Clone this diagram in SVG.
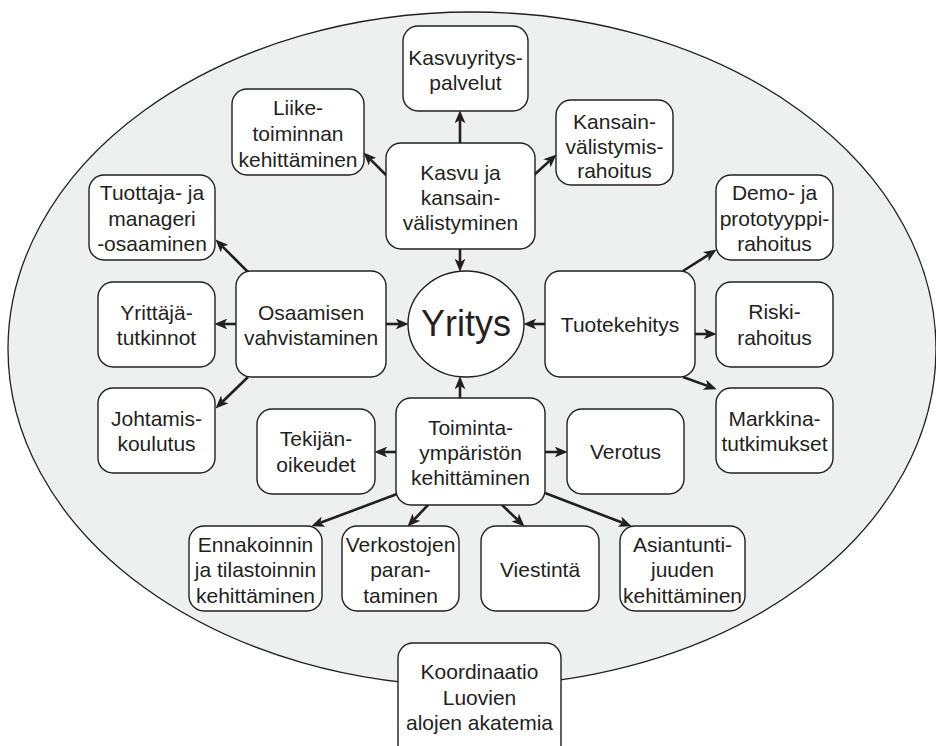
<svg xmlns="http://www.w3.org/2000/svg" width="936" height="746" viewBox="0 0 936 746">
<defs>
<style>
.bg{fill:#eef0ef;stroke:#231f20;stroke-width:1.3}
.box{fill:#ffffff;stroke:#231f20;stroke-width:1.4}
.t{font-family:"Liberation Sans",Arial,sans-serif;font-size:21px;fill:#231f20;text-anchor:middle}
.big{font-size:36px}
.c{fill:none;stroke:#231f20;stroke-width:2.6;marker-end:url(#ah)}
</style>
<marker id="ah" markerUnits="userSpaceOnUse" markerWidth="13" markerHeight="11" refX="3" refY="5" orient="auto" viewBox="0 0 12 10">
<path d="M0,0 L12,5 L0,10 L3,5 z" fill="#231f20"/>
</marker>
</defs>
<rect width="936" height="746" fill="#ffffff"/>
<ellipse class="bg" cx="472" cy="349" rx="464" ry="337"/>

<g id="connectors">
<path class="c" d="M460,143 L460,120"/>
<path class="c" d="M386,175 L370.4,159.4"/>
<path class="c" d="M534,175 L549.3,161.1"/>
<path class="c" d="M460,249 L460,262"/>
<path class="c" d="M248,272 L222.4,246.4"/>
<path class="c" d="M236,324 L224,324"/>
<path class="c" d="M248,377 L222.5,401.7"/>
<path class="c" d="M386,324 L399,324"/>
<path class="c" d="M545,324 L533,324"/>
<path class="c" d="M683,271 L708.4,254.8"/>
<path class="c" d="M695,334 L707,334"/>
<path class="c" d="M683,377 L707.5,385.9"/>
<path class="c" d="M460,398 L460,386"/>
<path class="c" d="M396,452 L384,452"/>
<path class="c" d="M545,452 L558,452"/>
<path class="c" d="M397,494 L320.4,522.8"/>
<path class="c" d="M428,505 L414.2,519.5"/>
<path class="c" d="M502,505 L517.5,519.8"/>
<path class="c" d="M545,493 L622.6,522.8"/>
</g>

<g id="kasvuyritys">
<rect class="box" x="403" y="26" width="125" height="85" rx="15"/>
<text class="t" x="465.5" y="65">Kasvuyritys-</text>
<text class="t" x="465.5" y="90">palvelut</text>
</g>
<g id="liike">
<rect class="box" x="232" y="89" width="132" height="86" rx="15"/>
<text class="t" x="298" y="115">Liike-</text>
<text class="t" x="298" y="141">toiminnan</text>
<text class="t" x="298" y="167">kehittäminen</text>
</g>
<g id="kansain">
<rect class="box" x="556" y="100" width="117" height="85" rx="15"/>
<text class="t" x="614.5" y="129">Kansain-</text>
<text class="t" x="614.5" y="154">välistymis-</text>
<text class="t" x="614.5" y="178">rahoitus</text>
</g>
<g id="kasvu">
<rect class="box" x="386" y="143" width="149" height="106" rx="15"/>
<text class="t" x="460.5" y="180">Kasvu ja</text>
<text class="t" x="460.5" y="205">kansain-</text>
<text class="t" x="460.5" y="230">välistyminen</text>
</g>
<g id="tuottaja">
<rect class="box" x="89" y="175" width="126" height="85" rx="15"/>
<text class="t" x="152" y="200">Tuottaja- ja</text>
<text class="t" x="152" y="226">manageri</text>
<text class="t" x="152" y="251">-osaaminen</text>
</g>
<g id="demo">
<rect class="box" x="716" y="175" width="117" height="85" rx="15"/>
<text class="t" x="774.5" y="200">Demo- ja</text>
<text class="t" x="774.5" y="226">prototyyppi-</text>
<text class="t" x="774.5" y="251">rahoitus</text>
</g>
<g id="osaamisen">
<rect class="box" x="236" y="271" width="150" height="106" rx="15"/>
<text class="t" x="311" y="320">Osaamisen</text>
<text class="t" x="311" y="345">vahvistaminen</text>
</g>
<g id="yrittaja">
<rect class="box" x="98" y="282" width="117" height="85" rx="15"/>
<text class="t" x="156.5" y="320">Yrittäjä-</text>
<text class="t" x="156.5" y="345">tutkinnot</text>
</g>
<g id="yritys">
<ellipse class="box" cx="466" cy="324" rx="58" ry="53"/>
<text class="t big" x="466" y="336">Yritys</text>
</g>
<g id="tuotekehitys">
<rect class="box" x="545" y="271" width="150" height="106" rx="15"/>
<text class="t" x="620" y="332">Tuotekehitys</text>
</g>
<g id="riski">
<rect class="box" x="716" y="282" width="117" height="85" rx="15"/>
<text class="t" x="774.5" y="319">Riski-</text>
<text class="t" x="774.5" y="345">rahoitus</text>
</g>
<g id="johtamis">
<rect class="box" x="98" y="388" width="117" height="85" rx="15"/>
<text class="t" x="156.5" y="426">Johtamis-</text>
<text class="t" x="156.5" y="451">koulutus</text>
</g>
<g id="markkina">
<rect class="box" x="716" y="388" width="117" height="85" rx="15"/>
<text class="t" x="774.5" y="426">Markkina-</text>
<text class="t" x="774.5" y="451">tutkimukset</text>
</g>
<g id="tekijan">
<rect class="box" x="257" y="409" width="118" height="85" rx="15"/>
<text class="t" x="316" y="446">Tekijän-</text>
<text class="t" x="316" y="472">oikeudet</text>
</g>
<g id="toiminta">
<rect class="box" x="396" y="398" width="149" height="107" rx="15"/>
<text class="t" x="470.5" y="435">Toiminta-</text>
<text class="t" x="470.5" y="460">ympäristön</text>
<text class="t" x="470.5" y="485">kehittäminen</text>
</g>
<g id="verotus">
<rect class="box" x="567" y="409" width="117" height="85" rx="15"/>
<text class="t" x="625.5" y="459">Verotus</text>
</g>
<g id="ennakoinnin">
<rect class="box" x="189" y="526" width="133" height="85" rx="15"/>
<text class="t" x="255.5" y="552">Ennakoinnin</text>
<text class="t" x="255.5" y="577">ja tilastoinnin</text>
<text class="t" x="255.5" y="603">kehittäminen</text>
</g>
<g id="verkostojen">
<rect class="box" x="342" y="526" width="117" height="85" rx="15"/>
<text class="t" x="400.5" y="552">Verkostojen</text>
<text class="t" x="400.5" y="577">paran-</text>
<text class="t" x="400.5" y="603">taminen</text>
</g>
<g id="viestinta">
<rect class="box" x="481" y="526" width="118" height="85" rx="15"/>
<text class="t" x="540" y="577">Viestintä</text>
</g>
<g id="asiantunti">
<rect class="box" x="620" y="526" width="125" height="85" rx="15"/>
<text class="t" x="682.5" y="552">Asiantunti-</text>
<text class="t" x="682.5" y="577">juuden</text>
<text class="t" x="682.5" y="603">kehittäminen</text>
</g>
<g id="koordinaatio">
<rect class="box" x="398" y="643" width="163" height="120" rx="15"/>
<text class="t" x="479.5" y="679">Koordinaatio</text>
<text class="t" x="479.5" y="705">Luovien</text>
<text class="t" x="479.5" y="730">alojen akatemia</text>
</g>
</svg>
